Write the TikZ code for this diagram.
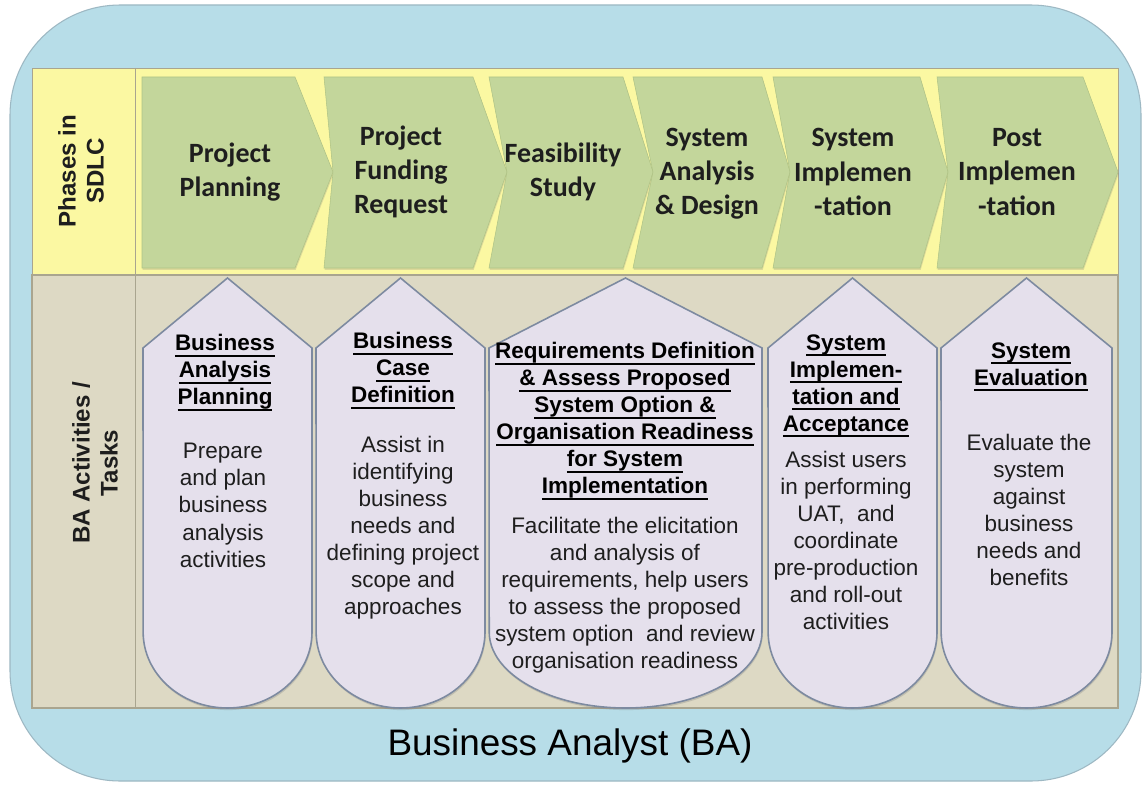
\documentclass[tikz,border=0pt]{standalone}
\usepackage{fontspec}
\setmainfont{Liberation Sans}
\newfontfamily\phaseFont{Carlito}
\usetikzlibrary{shadows}
\definecolor{bgBlue}{HTML}{B7DDE8}
\definecolor{bgEdge}{HTML}{9DB8C3}
\definecolor{bandYellow}{HTML}{FBF8A2}
\definecolor{bandBeige}{HTML}{DDD9C4}
\definecolor{bandEdge}{HTML}{A9A58F}
\definecolor{phaseGreen}{HTML}{C3D69B}
\definecolor{phaseEdge}{HTML}{AFC386}
\definecolor{taskLilac}{HTML}{E5E0EC}
\definecolor{taskEdge}{HTML}{7D8AA0}
\definecolor{textDark}{HTML}{1E1E1E}
\newcommand{\ulText}[1]{\setbox0=\hbox{#1}\rlap{\rule[-3.4pt]{\wd0}{1pt}}\box0}
\newcommand{\phaseArrow}[4]{%
  \fill[phase] (#1,77) -- (#3,77) -- (#4,172) -- (#3,268) -- (#1,268) -- (#2,172) -- cycle;}
\newcommand{\taskShape}[2]{%
  \draw[task] (#1,348) -- ({(#1+#2)/2},278) -- (#2,348) -- (#2,632)
    arc[start angle=0,end angle=-180,x radius={(#2-#1)*0.01cm},y radius=1.52cm] -- cycle;}

\begin{document}
\begin{tikzpicture}[x=0.02cm,y=-0.02cm,
  phase/.style={fill=phaseGreen,draw=phaseEdge,line width=0.3pt,
    drop shadow={shadow xshift=0.4pt,shadow yshift=-1pt,opacity=0.25}},
  task/.style={fill=taskLilac,draw=taskEdge,line width=0.9pt,
    drop shadow={shadow xshift=0.4pt,shadow yshift=-1.2pt,opacity=0.3}},
  phaseText/.style={font=\phaseFont\bfseries\fontsize{15.9}{19.4}\selectfont,
    text=textDark,align=center,inner sep=0pt},
  sideText/.style={font=\bfseries\fontsize{13.7}{15.9}\selectfont,
    text=textDark,align=center,rotate=90,inner sep=0pt},
  taskTitle/.style={font=\bfseries\fontsize{12.8}{15.4}\selectfont,
    align=center,anchor=north,inner sep=0pt},
  taskBody/.style={font=\fontsize{12.8}{15.4}\selectfont,
    text=textDark,align=center,anchor=north,inner sep=0pt}]
\useasboundingbox (0,0) rectangle (1145,784);
\fill[white] (0,0) rectangle (1145,784);
\draw[fill=bgBlue,draw=bgEdge,line width=0.6pt,rounded corners=2.2cm] (10,5) rectangle (1141,781);
\draw[fill=bandYellow,draw=bandEdge,line width=0.4pt] (32,68) rectangle (1118,275);
\draw[fill=bandBeige,draw=bandEdge,line width=0.6pt] (32,275) rectangle (1118,708);
\draw[bandEdge,line width=0.5pt] (135,68) -- (135,708);

\phaseArrow{142}{142}{295}{333}
\phaseArrow{324}{333}{473}{507}
\phaseArrow{489}{507}{623}{653}
\phaseArrow{633}{653}{762}{790}
\phaseArrow{773}{790}{920}{948}
\phaseArrow{937}{948}{1083}{1118}

\node[phaseText] (ph1) at (230,172) {Project\\Planning};
\node[phaseText] (ph2) at (401,172) {Project\\Funding\\Request};
\node[phaseText] (ph3) at (563,172) {Feasibility\\Study};
\node[phaseText] (ph4) at (707,174) {System\\Analysis\\\& Design};
\node[phaseText] (ph5) at (853,172) {System\\Implemen\\-tation};
\node[phaseText] (ph6) at (1017,172) {Post\\Implemen\\-tation};

\node[sideText] (sdlc) at (81,171) {Phases in\\SDLC};
\node[sideText] (baTasks) at (95,463) {BA Activities /\\Tasks};

\taskShape{143}{312}
\taskShape{316}{485}
\taskShape{489}{762}
\taskShape{768}{937}
\taskShape{941}{1112}

\node[taskTitle] (tt1) at (225,334) {\ulText{Business}\\\ulText{Analysis}\\\ulText{Planning}};
\node[taskBody] (tb1) at (223,443) {Prepare\\and plan\\business\\analysis\\activities};
\node[taskTitle] (tt2) at (403,332) {\ulText{Business}\\\ulText{Case}\\\ulText{Definition}};
\node[taskBody] (tb2) at (403,436) {Assist in\\identifying\\business\\needs and\\defining project\\scope and\\approaches};
\node[taskTitle] (tt3) at (625,342) {\ulText{Requirements Definition}\\\ulText{\& Assess Proposed}\\\ulText{System Option \&}\\\ulText{Organisation Readiness}\\\ulText{for System}\\\ulText{Implementation}};
\node[taskBody] (tb3) at (625,517) {Facilitate the elicitation\\and analysis of\\requirements, help users\\to assess the proposed\\system option\ \ and review\\organisation readiness};
\node[taskTitle] (tt4) at (846,334) {\ulText{System}\\\ulText{Implemen-}\\\ulText{tation and}\\\ulText{Acceptance}};
\node[taskBody] (tb4) at (846,451) {Assist users\\in performing\\UAT,\ \ and\\coordinate\\pre-production\\and roll-out\\activities};
\node[taskTitle] (tt5) at (1031,342) {\ulText{System}\\\ulText{Evaluation}};
\node[taskBody] (tb5) at (1029,434) {Evaluate the\\system\\against\\business\\needs and\\benefits};

\node[font=\fontsize{21}{25}\selectfont,text=black,anchor=base,inner sep=0pt] (baTitle) at (570,755) {Business Analyst (BA)};
\end{tikzpicture}
\end{document}
